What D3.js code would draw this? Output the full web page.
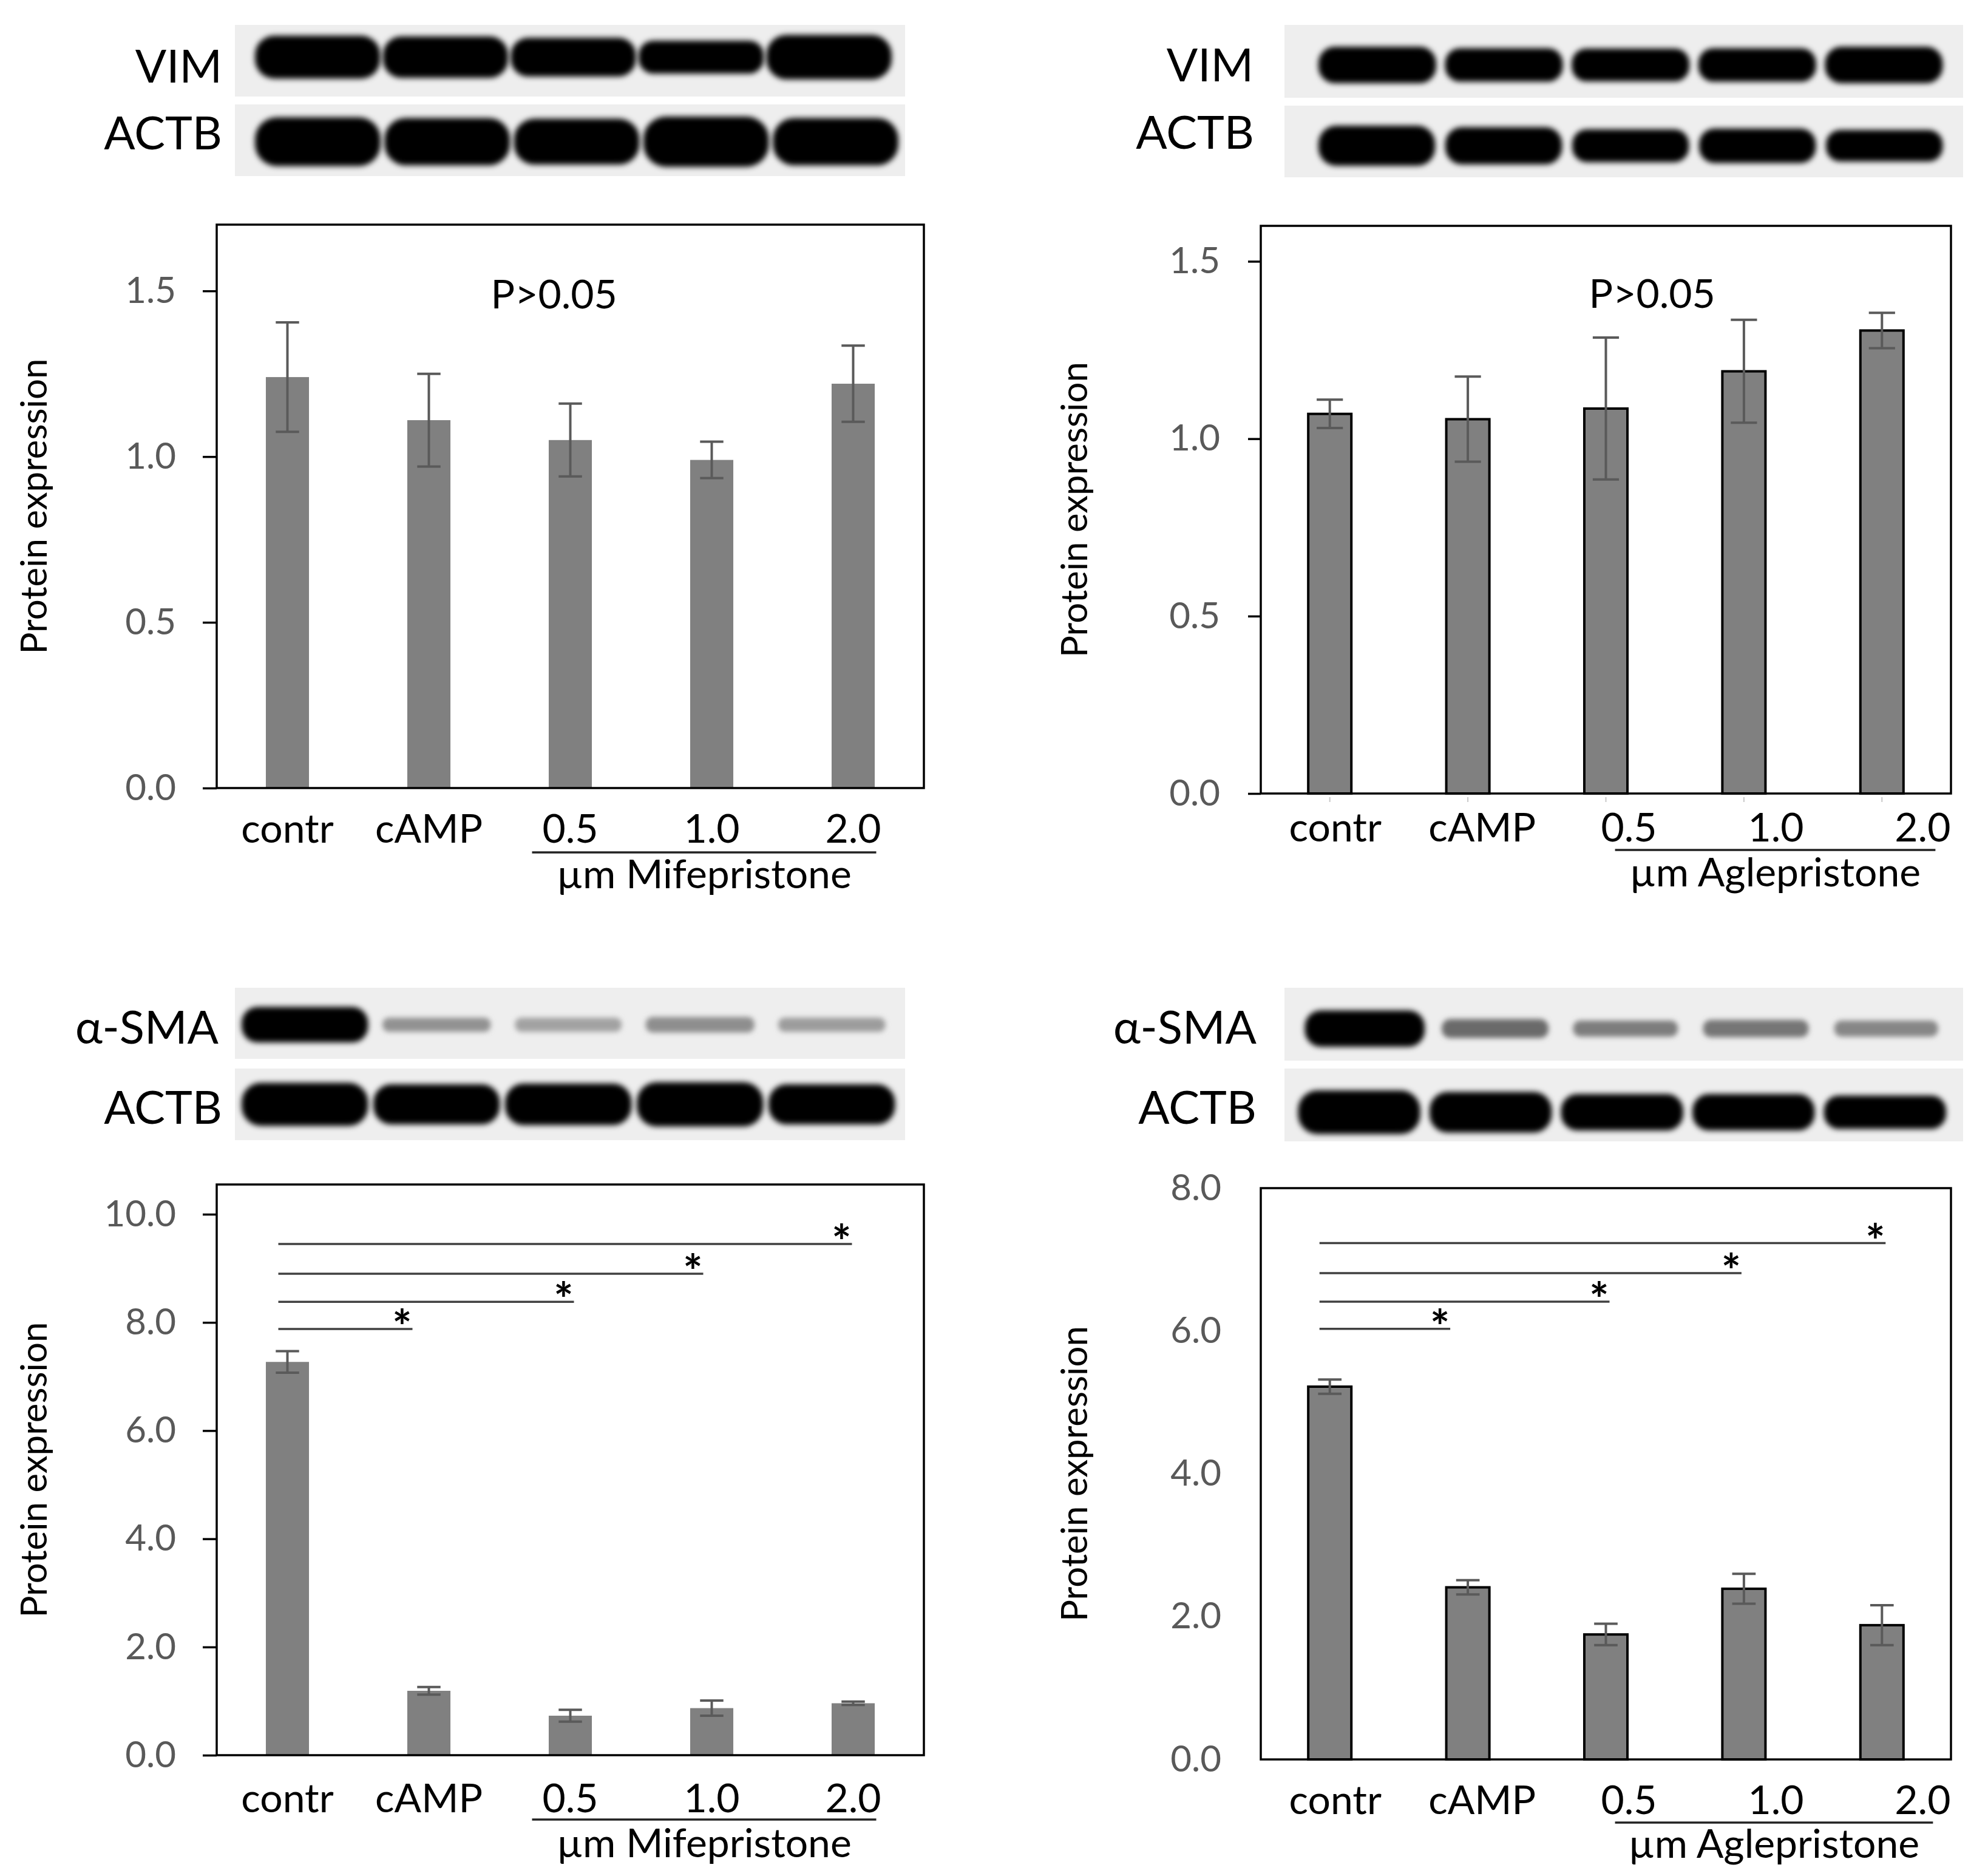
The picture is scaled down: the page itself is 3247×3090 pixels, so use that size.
<!DOCTYPE html>
<html><head><meta charset="utf-8">
<script src="https://cdn.jsdelivr.net/npm/d3@7"></script>
<style>
html,body{margin:0;padding:0;background:#fff;}
svg{display:block;font-family:Lato,"Open Sans","Noto Sans",sans-serif;}
</style></head><body>
<svg id="chart" width="3247" height="3090"></svg>
<script>
// ---------- DATA ----------
const categories = ["contr", "cAMP", "0.5", "1.0", "2.0"];
const vimMife = [1.24, 1.11, 1.05, 0.99, 1.22];
const vimMifeErr = [0.165, 0.14, 0.11, 0.055, 0.115];
const vimAgle = [1.07, 1.055, 1.085, 1.19, 1.305];
const vimAgleErr = [0.04, 0.12, 0.2, 0.145, 0.05];
const smaMife = [7.27, 1.19, 0.73, 0.87, 0.96];
const smaMifeErr = [0.2, 0.07, 0.11, 0.14, 0.03];
const smaAgle = [5.22, 2.41, 1.75, 2.39, 1.88];
const smaAgleErr = [0.1, 0.1, 0.15, 0.21, 0.28];
const vimTicks = [0, 0.5, 1.0, 1.5];
const smaMifeTicks = [0, 2, 4, 6, 8, 10];
const smaAgleTicks = [0, 2, 4, 6, 8];
const groupLabels = ["µm Mifepristone", "µm Aglepristone"];
const yTitle = "Protein expression";
const pLabel = "P>0.05";
const sigTargets = ["cAMP", "0.5", "1.0", "2.0"];
const sigLevelsMife = [7.88, 8.38, 8.9, 9.45];
const sigLevelsAgle = [6.03, 6.41, 6.81, 7.23];
// western blot band darkness (0..1) and relative thickness per lane
const blotVimMifeInt = [1, 1, 1, 1, 1];
const blotVimMifeTh = [0.6, 0.58, 0.54, 0.46, 0.62];
const blotActbMifeTopInt = [1, 1, 1, 1, 1];
const blotActbMifeTopTh = [0.68, 0.66, 0.64, 0.7, 0.66];
const blotVimAgleInt = [1, 1, 1, 1, 1];
const blotVimAgleTh = [0.5, 0.46, 0.45, 0.46, 0.5];
const blotActbAgleTopInt = [1, 1, 1, 1, 1];
const blotActbAgleTopTh = [0.56, 0.52, 0.46, 0.48, 0.44];
const blotSmaMifeInt = [1, 0.28, 0.22, 0.3, 0.24];
const blotSmaMifeTh = [0.5, 0.2, 0.2, 0.22, 0.2];
const blotActbMifeBotInt = [1, 1, 1, 1, 1];
const blotActbMifeBotTh = [0.6, 0.56, 0.58, 0.62, 0.56];
const blotSmaAgleInt = [1, 0.45, 0.37, 0.4, 0.33];
const blotSmaAgleTh = [0.5, 0.26, 0.22, 0.24, 0.22];
const blotActbAgleBotInt = [1, 1, 1, 1, 1];
const blotActbAgleBotTh = [0.6, 0.56, 0.5, 0.5, 0.46];

// ---------- LAYOUT ----------
const FONT = 'Lato,"Open Sans","Noto Sans",sans-serif';
const panels = [
  { values: vimMife, errs: vimMifeErr, ticks: vimTicks, ymax: 1.7,
    frame: {x0: 357, x1: 1522, y0: 370, y1: 1298}, barFrac: 0.305, barStroke: false, capFrac: 0.165,
    tickSize: 23, tickPad: 44, labelRange: null, labelDy: 90, lineDy: 106, groupDy: 165, ul: [-63, 38],
    group: groupLabels[0], titleX: 56, p: {xf: 0.477, v: 1.49}, sig: null, minorX: false,
    blots: [
      {label: "VIM", lx: 366, ly: 109, x0: 387, x1: 1491, y0: 41, y1: 159, range: [0.03, 0.98], pad: 0.02, c: 0.45, int: blotVimMifeInt, th: blotVimMifeTh},
      {label: "ACTB", lx: 366, ly: 219, x0: 387, x1: 1491, y0: 172, y1: 290, range: [0.03, 0.99], pad: 0.03, c: 0.52, int: blotActbMifeTopInt, th: blotActbMifeTopTh}
    ]},
  { values: vimAgle, errs: vimAgleErr, ticks: vimTicks, ymax: 1.6,
    frame: {x0: 2077, x1: 3214, y0: 372, y1: 1307}, barFrac: 0.33, barStroke: true, capFrac: 0.19,
    tickSize: 21, tickPad: 46, labelRange: [0.108, 0.959], labelDy: 79, lineDy: 93, groupDy: 153, ul: [-23, 21],
    group: groupLabels[1], titleX: 1770, p: {xf: 0.567, v: 1.41}, sig: null, minorX: true,
    blots: [
      {label: "VIM", lx: 2065, ly: 107, x0: 2116, x1: 3234, y0: 41, y1: 161, range: [0.05, 0.97], pad: 0.07, c: 0.55, int: blotVimAgleInt, th: blotVimAgleTh},
      {label: "ACTB", lx: 2066, ly: 218, x0: 2116, x1: 3234, y0: 174, y1: 292, range: [0.05, 0.97], pad: 0.08, c: 0.56, int: blotActbAgleTopInt, th: blotActbAgleTopTh}
    ]},
  { values: smaMife, errs: smaMifeErr, ticks: smaMifeTicks, ymax: 10.55,
    frame: {x0: 357, x1: 1522, y0: 1951, y1: 2891}, barFrac: 0.305, barStroke: false, capFrac: 0.165,
    tickSize: 23, tickPad: 44, labelRange: null, labelDy: 94, lineDy: 106, groupDy: 168, ul: [-63, 38],
    group: groupLabels[0], titleX: 56, p: null, minorX: false,
    sig: {levels: sigLevelsMife, start: -15, ends: [-27, 6, -14, -2]},
    blots: [
      {label: "α-SMA", lx: 360, ly: 1692, x0: 387, x1: 1491, y0: 1627, y1: 1744, range: [0.01, 0.985], pad: 0.04, c: 0.52, int: blotSmaMifeInt, th: blotSmaMifeTh},
      {label: "ACTB", lx: 366, ly: 1824, x0: 387, x1: 1491, y0: 1760, y1: 1878, range: [0.01, 0.985], pad: 0.04, c: 0.5, int: blotActbMifeBotInt, th: blotActbMifeBotTh}
    ]},
  { values: smaAgle, errs: smaAgleErr, ticks: smaAgleTicks, ymax: 8,
    frame: {x0: 2077, x1: 3214, y0: 1957, y1: 2898}, barFrac: 0.33, barStroke: true, capFrac: 0.17,
    tickSize: 0, tickPad: 65, labelRange: [0.108, 0.959], labelDy: 90, lineDy: 104, groupDy: 162, ul: [-23, 17],
    group: groupLabels[1], titleX: 1770, p: null, minorX: false,
    sig: {levels: sigLevelsAgle, start: -17, ends: [-29, 6, -4, 6]},
    blots: [
      {label: "α-SMA", lx: 2070, ly: 1692, x0: 2116, x1: 3234, y0: 1627, y1: 1747, range: [0.03, 0.975], pad: 0.08, c: 0.56, int: blotSmaAgleInt, th: blotSmaAgleTh},
      {label: "ACTB", lx: 2070, ly: 1824, x0: 2116, x1: 3234, y0: 1760, y1: 1880, range: [0.02, 0.975], pad: 0.07, c: 0.6, int: blotActbAgleBotInt, th: blotActbAgleBotTh}
    ]}
];

// ---------- DRAW ----------
const svg = d3.select("#chart");
svg.append("rect").attr("width", 3247).attr("height", 3090).attr("fill", "#fff");
const defs = svg.append("defs");
defs.append("filter").attr("id", "blur").attr("x", "-30%").attr("y", "-100%").attr("width", "160%").attr("height", "300%")
  .append("feGaussianBlur").attr("stdDeviation", 5);
defs.append("filter").attr("id", "blurFaint").attr("x", "-30%").attr("y", "-100%").attr("width", "160%").attr("height", "300%")
  .append("feGaussianBlur").attr("stdDeviation", 4);

const darkness = d3.interpolateRgb("#eeeeee", "#000000");
let clipId = 0;

function drawBlot(g, b) {
  const w = b.x1 - b.x0, h = b.y1 - b.y0;
  const id = "clip" + (clipId++);
  defs.append("clipPath").attr("id", id).append("rect")
    .attr("x", b.x0).attr("y", b.y0).attr("width", w).attr("height", h);
  g.append("rect").attr("x", b.x0).attr("y", b.y0).attr("width", w).attr("height", h).attr("fill", "#eeeeee");
  const lane = d3.scaleBand().domain(categories)
    .range([b.x0 + b.range[0] * w, b.x0 + b.range[1] * w]).paddingInner(b.pad);
  const bandsG = g.append("g").attr("clip-path", `url(#${id})`);
  const laneData = categories.map((c, i) => ({c, k: b.int[i], t: b.th[i]}));
  bandsG.selectAll("rect.band").data(laneData).join("rect").attr("class", "band")
    .attr("x", d => lane(d.c) + lane.bandwidth() * (1 - (0.8 + 0.2 * d.k)) / 2)
    .attr("width", d => lane.bandwidth() * (0.8 + 0.2 * d.k))
    .attr("y", d => b.y0 + b.c * h - d.t * h / 2)
    .attr("height", d => d.t * h)
    .attr("rx", d => d.t * h * 0.45)
    .attr("fill", d => darkness(Math.pow(d.k, 0.75)))
    .attr("filter", d => d.k > 0.9 ? "url(#blur)" : "url(#blurFaint)");
  g.append("text").attr("x", b.lx).attr("y", b.ly).attr("dy", "0.36em")
    .attr("text-anchor", "end").style("font-size", "76px").attr("fill", "#000").text(b.label);
}

panels.forEach(p => {
  const g = svg.append("g");
  p.blots.forEach(b => drawBlot(g, b));
  const f = p.frame;
  const x = d3.scaleBand().domain(categories).range([f.x0, f.x1]).padding(0);
  const y = d3.scaleLinear().domain([0, p.ymax]).range([f.y1, f.y0]);
  const data = categories.map((c, i) => ({c, v: p.values[i], e: p.errs[i]}));
  const bw = x.bandwidth() * p.barFrac;
  const cx = c => x(c) + x.bandwidth() / 2;
  const sw = p.barStroke ? 4 : 0;

  // bars
  g.selectAll("rect.bar").data(data).join("rect").attr("class", "bar")
    .attr("x", d => cx(d.c) - bw / 2 + sw / 2)
    .attr("width", bw - sw)
    .attr("y", d => y(d.v))
    .attr("height", d => y(0) - y(d.v))
    .attr("fill", "#808080")
    .attr("stroke", p.barStroke ? "#000" : "none")
    .attr("stroke-width", sw);

  // error bars
  const cap = x.bandwidth() * p.capFrac;
  const eg = g.append("g").attr("stroke", "#5a5a5a").attr("stroke-width", 4);
  eg.selectAll("line.ev").data(data).join("line").attr("class", "ev")
    .attr("x1", d => cx(d.c)).attr("x2", d => cx(d.c))
    .attr("y1", d => y(d.v + d.e)).attr("y2", d => y(d.v - d.e));
  eg.selectAll("line.et").data(data).join("line").attr("class", "et")
    .attr("x1", d => cx(d.c) - cap / 2).attr("x2", d => cx(d.c) + cap / 2)
    .attr("y1", d => y(d.v + d.e)).attr("y2", d => y(d.v + d.e));
  eg.selectAll("line.eb").data(data).join("line").attr("class", "eb")
    .attr("x1", d => cx(d.c) - cap / 2).attr("x2", d => cx(d.c) + cap / 2)
    .attr("y1", d => y(d.v - d.e)).attr("y2", d => y(d.v - d.e));

  // frame
  g.append("rect").attr("x", f.x0).attr("y", f.y0).attr("width", f.x1 - f.x0).attr("height", f.y1 - f.y0)
    .attr("fill", "none").attr("stroke", "#000").attr("stroke-width", 3.5);

  // y axis
  const axis = d3.axisLeft(y).tickValues(p.ticks).tickFormat(d3.format(".1f"))
    .tickSize(p.tickSize).tickPadding(p.tickPad);
  const ag = g.append("g").attr("transform", `translate(${f.x0},0)`).call(axis)
    .attr("font-family", FONT).attr("font-size", 60);
  ag.select(".domain").remove();
  ag.selectAll(".tick line").attr("stroke", "#000").attr("stroke-width", 3.5);
  ag.selectAll(".tick text").attr("fill", "#595959");

  // faint x tick marks
  if (p.minorX) {
    g.selectAll("line.mx").data(categories).join("line").attr("class", "mx")
      .attr("x1", cx).attr("x2", cx).attr("y1", f.y1 + 6).attr("y2", f.y1 + 14)
      .attr("stroke", "#c8c8c8").attr("stroke-width", 2);
  }

  // category labels
  const lx = p.labelRange
    ? d3.scalePoint().domain(categories).range([f.x0 + p.labelRange[0] * (f.x1 - f.x0), f.x0 + p.labelRange[1] * (f.x1 - f.x0)])
    : cx;
  g.selectAll("text.cat").data(categories).join("text").attr("class", "cat")
    .attr("x", d => lx(d)).attr("y", f.y1 + p.labelDy)
    .attr("text-anchor", "middle").style("font-size", "66px").attr("fill", "#000").text(d => d);

  // group underline + label
  const ulx0 = lx("0.5") + p.ul[0], ulx1 = lx("2.0") + p.ul[1];
  g.append("line").attr("x1", ulx0).attr("x2", ulx1).attr("y1", f.y1 + p.lineDy).attr("y2", f.y1 + p.lineDy)
    .attr("stroke", "#222").attr("stroke-width", 3.5);
  g.append("text").attr("x", (ulx0 + ulx1) / 2).attr("y", f.y1 + p.groupDy)
    .attr("text-anchor", "middle").style("font-size", "66px").attr("fill", "#000").text(p.group);

  // y title
  g.append("text").attr("transform", `translate(${p.titleX},${(f.y0 + f.y1) / 2}) rotate(-90)`)
    .attr("dy", "0.35em").attr("text-anchor", "middle").style("font-size", "60px").attr("fill", "#000").text(yTitle);

  // P annotation
  if (p.p) {
    g.append("text").attr("x", f.x0 + p.p.xf * (f.x1 - f.x0)).attr("y", y(p.p.v)).attr("dy", "0.36em")
      .attr("text-anchor", "middle").style("font-size", "66px").attr("fill", "#000").text(pLabel);
  }

  // significance lines
  if (p.sig) {
    const sd = sigTargets.map((t, i) => ({t, lvl: p.sig.levels[i], end: p.sig.ends[i]}));
    g.selectAll("line.sig").data(sd).join("line").attr("class", "sig")
      .attr("x1", cx("contr") + p.sig.start).attr("x2", d => cx(d.t) + d.end)
      .attr("y1", d => y(d.lvl)).attr("y2", d => y(d.lvl))
      .attr("stroke", "#404040").attr("stroke-width", 3.5);
    g.selectAll("text.star").data(sd).join("text").attr("class", "star")
      .attr("x", d => cx(d.t) + d.end - 17).attr("y", d => y(d.lvl) + 24)
      .attr("text-anchor", "middle").style("font-size", "76px").style("font-weight", "bold")
      .attr("fill", "#000").text("*");
  }
});
</script>
</body></html>
